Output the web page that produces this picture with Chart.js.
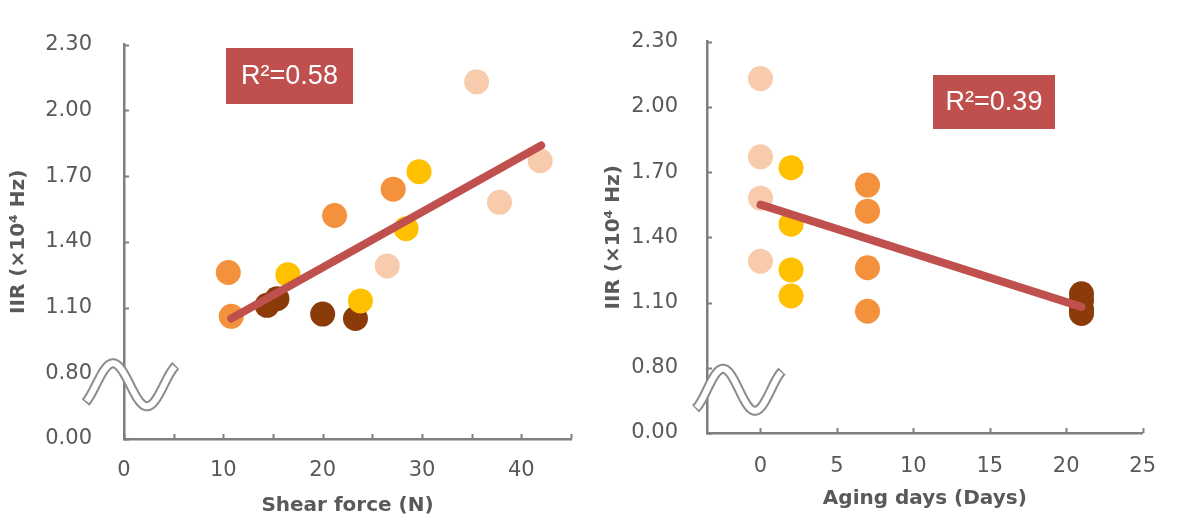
<!DOCTYPE html>
<html>
<head>
<meta charset="utf-8">
<script src="https://cdn.jsdelivr.net/npm/chart.js@4.4.1/dist/chart.umd.min.js"></script>
<style>
  html, body { margin: 0; padding: 0; background: #fff; }
  #wrap { position: relative; width: 1177px; height: 520px; }
  .box { position: absolute; top: 0; height: 520px; }
</style>
</head>
<body>
<div id="wrap">
  <div class="box" style="left:0;width:590px"><canvas id="shearChart"></canvas></div>
  <div class="box" style="left:590px;width:587px"><canvas id="agingChart"></canvas></div>
</div>
<script>
// four aging groups, four samples each
var groupDays = [0, 2, 7, 21];
var groupColors = ['#f8cbad', '#ffc000', '#f4913d', '#8a3b08'];

var shearForce = [
  [26.5, 35.5, 37.8, 41.9],
  [16.5, 23.8, 28.4, 29.7],
  [10.5, 10.8, 21.2, 27.1],
  [14.4, 15.4, 20.0, 23.3]
];
var iir = [
  [1.29, 2.13, 1.58, 1.77],
  [1.25, 1.13, 1.46, 1.72],
  [1.26, 1.06, 1.52, 1.64],
  [1.11, 1.14, 1.07, 1.05]
];

// fitted lines
var shearTrendX = [10.8, 42.0];
var shearTrendY = [1.05, 1.84];
var agingTrendX = [0, 21];
var agingTrendY = [1.55, 1.08];
var r2Labels = ['R\u00b2=0.58', 'R\u00b2=0.39'];

var yTickLabels = ['0.00', '0.80', '1.10', '1.40', '1.70', '2.00', '2.30'];
var agingTicks = [0, 5, 10, 15, 20, 25];

var gray = '#595959';
var axisGray = '#7f7f7f';
var trendRed = '#c0504d';

// broken y axis: 0-0.8 squeezed into one step, then 0.3 per step
function toAxis(v) {
  return v < 0.8 ? v / 0.8 : 1 + (v - 0.8) / 0.3;
}

var decorPlugin = {
  id: 'decor',
  afterDraw: function (chart, args, o) {
    var ctx = chart.ctx, xs = chart.scales.x, ys = chart.scales.y;
    var ca = chart.chartArea;
    ctx.save();
    // inward tick marks
    ctx.strokeStyle = axisGray;
    ctx.lineWidth = 2;
    ys.ticks.forEach(function (t) {
      var py = Math.round(ys.getPixelForValue(t.value)) + 0.5;
      ctx.beginPath(); ctx.moveTo(ca.left, py); ctx.lineTo(ca.left + 5, py); ctx.stroke();
    });
    xs.ticks.forEach(function (t) {
      var px = Math.round(xs.getPixelForValue(t.value)) + 0.5;
      ctx.beginPath(); ctx.moveTo(px, ca.bottom); ctx.lineTo(px, ca.bottom - 5); ctx.stroke();
    });
    // axis break squiggle: gray outline, white core
    var ax = ca.left, ay = ys.getPixelForValue(1);
    var k = o.half / Math.PI;
    function path(a, b) {
      ctx.beginPath();
      for (var th = a, i = 0; th <= b + 1e-6; th += 0.05, i++) {
        var px = ax + o.peakDx + (th - Math.PI / 2) * k;
        var py = ay + o.midDy - o.amp * Math.sin(th);
        if (i) ctx.lineTo(px, py); else ctx.moveTo(px, py);
      }
    }
    ctx.lineJoin = 'round';
    ctx.lineCap = 'butt';
    path(o.th0 - 0.1, o.th1 + 0.1); ctx.strokeStyle = '#8c8c8c'; ctx.lineWidth = 10; ctx.stroke();
    path(o.th0, o.th1); ctx.strokeStyle = '#ffffff'; ctx.lineWidth = 6; ctx.stroke();
    // R2 label box
    var b = o.box;
    ctx.fillStyle = trendRed;
    ctx.fillRect(b[0], b[1], b[2], b[3]);
    ctx.fillStyle = '#ffffff';
    ctx.font = '27px "Liberation Sans", Arial, sans-serif';
    ctx.textAlign = 'center';
    ctx.textBaseline = 'middle';
    ctx.fillText(o.text, b[0] + b[2] / 2, b[1] + b[3] / 2 + 1);
    ctx.restore();
  }
};

function makeChart(id, xValues, trendX, trendY, cfg) {
  var datasets = [{
    data: trendX.map(function (x, i) { return { x: x, y: toAxis(trendY[i]) }; }),
    showLine: true,
    borderColor: trendRed,
    borderWidth: 8,
    borderCapStyle: 'round',
    pointRadius: 0,
    order: 0
  }];
  groupColors.forEach(function (c, g) {
    datasets.push({
      data: iir[g].map(function (v, j) { return { x: xValues(g, j), y: toAxis(v) }; }),
      backgroundColor: c,
      borderWidth: 0,
      pointRadius: 12.5,
      order: 1
    });
  });
  var tickFont = { family: '"DejaVu Sans", sans-serif', size: 21 };
  var titleFont = { family: '"DejaVu Sans", sans-serif', size: 20, weight: 'bold' };
  return new Chart(document.getElementById(id), {
    type: 'scatter',
    data: { datasets: datasets },
    options: {
      responsive: true,
      maintainAspectRatio: false,
      animation: false,
      layout: { padding: { left: 0, right: cfg.padRight, top: cfg.top, bottom: 0 } },
      plugins: {
        legend: { display: false },
        tooltip: { enabled: false },
        decor: cfg.decor
      },
      scales: {
        x: {
          type: 'linear',
          min: cfg.xMin,
          max: cfg.xMax,
          afterBuildTicks: cfg.xTicks,
          afterFit: function (s) { s.height = 520 - cfg.bottom; },
          ticks: {
            stepSize: 5,
            autoSkip: false,
            maxRotation: 0,
            padding: cfg.xPad,
            color: gray,
            font: tickFont,
            callback: cfg.xLabel
          },
          grid: { drawOnChartArea: false, drawTicks: false },
          border: { color: axisGray, width: 2.5 },
          title: {
            display: true, text: cfg.xTitle, color: gray, font: titleFont,
            padding: { top: 0, bottom: cfg.xTitlePad }
          }
        },
        y: {
          min: 0,
          max: 6,
          afterFit: function (s) { s.width = cfg.left; },
          ticks: {
            stepSize: 1,
            padding: cfg.yPad,
            color: gray,
            font: tickFont,
            callback: function (v) { return yTickLabels[v]; }
          },
          grid: { drawOnChartArea: false, drawTicks: false },
          border: { color: axisGray, width: 2.5 },
          title: {
            display: true, text: 'IIR (\u00d710\u2074 Hz)', color: gray, font: titleFont,
            padding: { top: cfg.yTitlePad, bottom: 0 }
          }
        }
      }
    },
    plugins: [decorPlugin]
  });
}

makeChart('shearChart', function (g, j) { return shearForce[g][j]; }, shearTrendX, shearTrendY, {
  left: 124, padRight: 17, top: 25, bottom: 439,
  xMin: 0, xMax: 45, xPad: 19, yPad: 32, xTitlePad: 2, yTitlePad: 7,
  xTitle: 'Shear force (N)',
  xLabel: function (v) { return (v % 10 === 0 && v <= 40) ? String(v) : ''; },
  decor: { peakDx: -11, midDy: 11.5, amp: 21.5, half: 34, th0: -0.87, th1: 7.3,
           box: [226, 48, 127, 56], text: r2Labels[0] }
});

makeChart('agingChart', function (g) { return groupDays[g]; }, agingTrendX, agingTrendY, {
  left: 117, padRight: 20, top: 38, bottom: 433,
  xMin: -3.5, xMax: 25, xPad: 21, yPad: 29, xTitlePad: 9, yTitlePad: 12,
  xTitle: 'Aging days (Days)',
  xTicks: function (s) { s.ticks = agingTicks.map(function (v) { return { value: v }; }); },
  xLabel: function (v) { return String(v); },
  decor: { peakDx: 16, midDy: 22, amp: 21, half: 32, th0: -1.03, th1: 7.3,
           box: [343, 75, 122, 54], text: r2Labels[1] }
});
</script>
</body>
</html>
